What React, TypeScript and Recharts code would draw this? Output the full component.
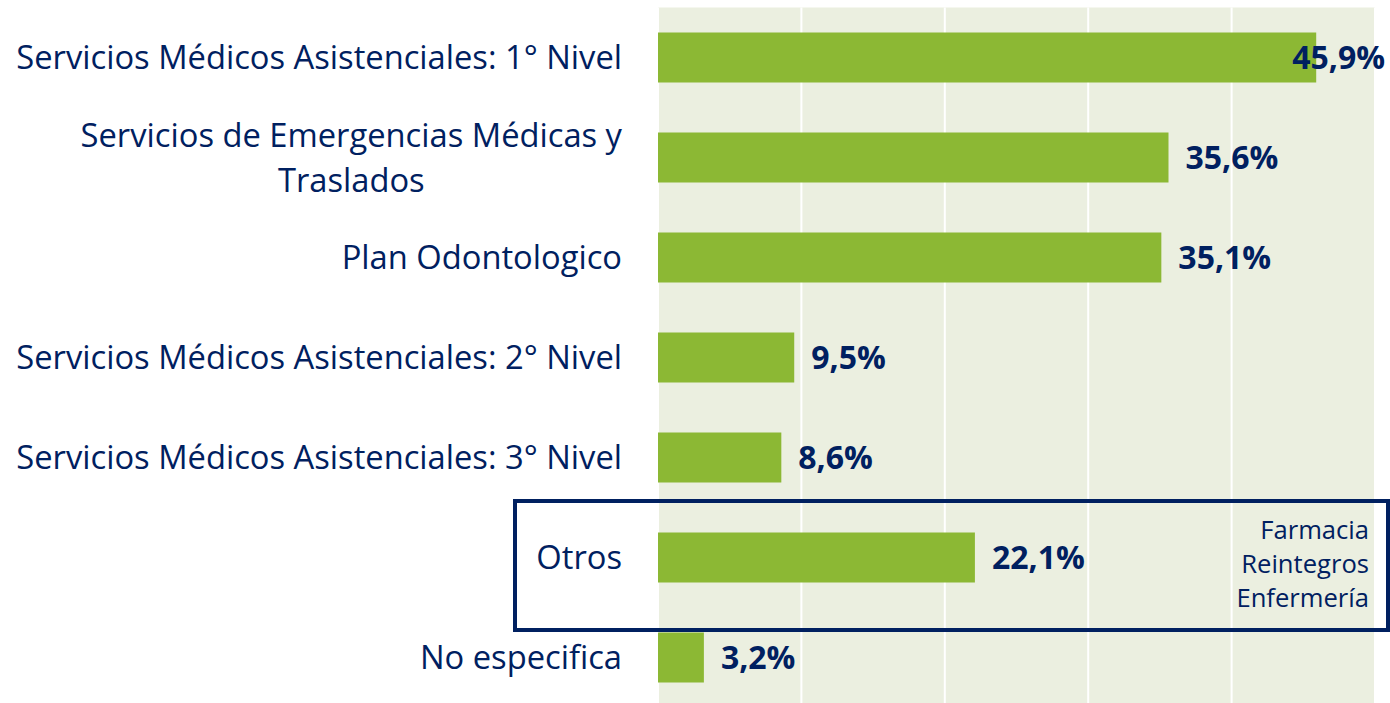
import React from 'react';
import { BarChart, Bar, XAxis, YAxis, CartesianGrid, LabelList } from 'recharts';

const categories = [
  'Servicios Médicos Asistenciales: 1° Nivel',
  'Servicios de Emergencias Médicas y Traslados',
  'Plan Odontologico',
  'Servicios Médicos Asistenciales: 2° Nivel',
  'Servicios Médicos Asistenciales: 3° Nivel',
  'Otros',
  'No especifica',
];
const values = [45.9, 35.6, 35.1, 9.5, 8.6, 22.1, 3.2];
const xTicks = [0, 10, 20, 30, 40, 50];
const otrosDetail = ['Farmacia', 'Reintegros', 'Enfermería'];

const data = categories.map((name, i) => ({ name, value: values[i] }));

const NAVY = '#002060';
const GREEN = '#8CB834';
const BG = '#EBEFE0';
const FONT = "'Open Sans', sans-serif";
const W = 1390;
const LABEL_SIZE = 32.7;

let ctx: CanvasRenderingContext2D | null = null;
function measure(text: string, font: string): number {
  if (!ctx) ctx = document.createElement('canvas').getContext('2d');
  if (!ctx) return text.length * 16;
  ctx.font = font;
  return ctx.measureText(text).width;
}

function wrap(text: string, maxChars: number): string[] {
  const words = text.split(' ');
  const lines: string[] = [];
  let cur = '';
  for (const w of words) {
    const next = cur ? cur + ' ' + w : w;
    if (next.length > maxChars && cur) {
      lines.push(cur);
      cur = w;
    } else cur = next;
  }
  if (cur) lines.push(cur);
  return lines;
}

const CategoryTick = (props: any) => {
  const { x, y, payload } = props;
  const lines = wrap(String(payload.value), 41);
  const font = `${LABEL_SIZE}px ${FONT}`;
  if (lines.length === 1) {
    return (
      <text x={x} y={y + 11.5} textAnchor="end" fill={NAVY} fontSize={LABEL_SIZE} fontFamily={FONT}>
        {lines[0]}
      </text>
    );
  }
  const maxW = Math.max(...lines.map((l) => measure(l, font)));
  const cx = x - maxW / 2;
  const lh = 45;
  const start = y + 11.5 - ((lines.length - 1) * lh) / 2;
  return (
    <g>
      {lines.map((l, i) => (
        <text key={i} x={cx} y={start + i * lh} textAnchor="middle" fill={NAVY} fontSize={LABEL_SIZE} fontFamily={FONT}>
          {l}
        </text>
      ))}
    </g>
  );
};

const ValueLabel = (props: any) => {
  const { x, y, width, height, value } = props;
  const txt = Number(value).toFixed(1).replace('.', ',') + '%';
  const font = `bold 32px ${FONT}`;
  const tw = measure(txt, font);
  let tx = x + width + 17;
  if (tx + tw > W - 5) tx = W - 5 - tw;
  return (
    <text x={tx} y={y + height / 2 + 11.5} fill={NAVY} fontSize={32} fontWeight="bold" fontFamily={FONT}>
      {txt}
    </text>
  );
};

export default function App() {
  return (
    <div style={{ position: 'absolute', left: 0, top: 0, width: W, height: 703, overflow: 'hidden', background: '#fff' }}>
      <BarChart
        width={W}
        height={715}
        data={data}
        layout="vertical"
        margin={{ top: 7.5, right: 15, bottom: 7.5, left: 0 }}
      >
        <CartesianGrid horizontal={false} vertical stroke="#ffffff" strokeWidth={2} fill={BG} />
        <XAxis type="number" domain={[0, 50]} ticks={xTicks} hide />
        <YAxis
          type="category"
          dataKey="name"
          width={658}
          axisLine={false}
          tickLine={false}
          tickSize={0}
          tickMargin={36}
          interval={0}
          tick={<CategoryTick />}
        />
        <Bar dataKey="value" fill={GREEN} barSize={50} isAnimationActive={false}>
          <LabelList dataKey="value" content={<ValueLabel />} />
        </Bar>
      </BarChart>
      <svg width={W} height={703} style={{ position: 'absolute', left: 0, top: 0, pointerEvents: 'none' }}>
        <rect x={515} y={501} width={873} height={129} fill="none" stroke={NAVY} strokeWidth={4} />
        {otrosDetail.map((t, i) => (
          <text key={t} x={1369} y={539 + i * 34} textAnchor="end" fill={NAVY} fontSize={25.6} fontFamily={FONT}>
            {t}
          </text>
        ))}
      </svg>
    </div>
  );
}
